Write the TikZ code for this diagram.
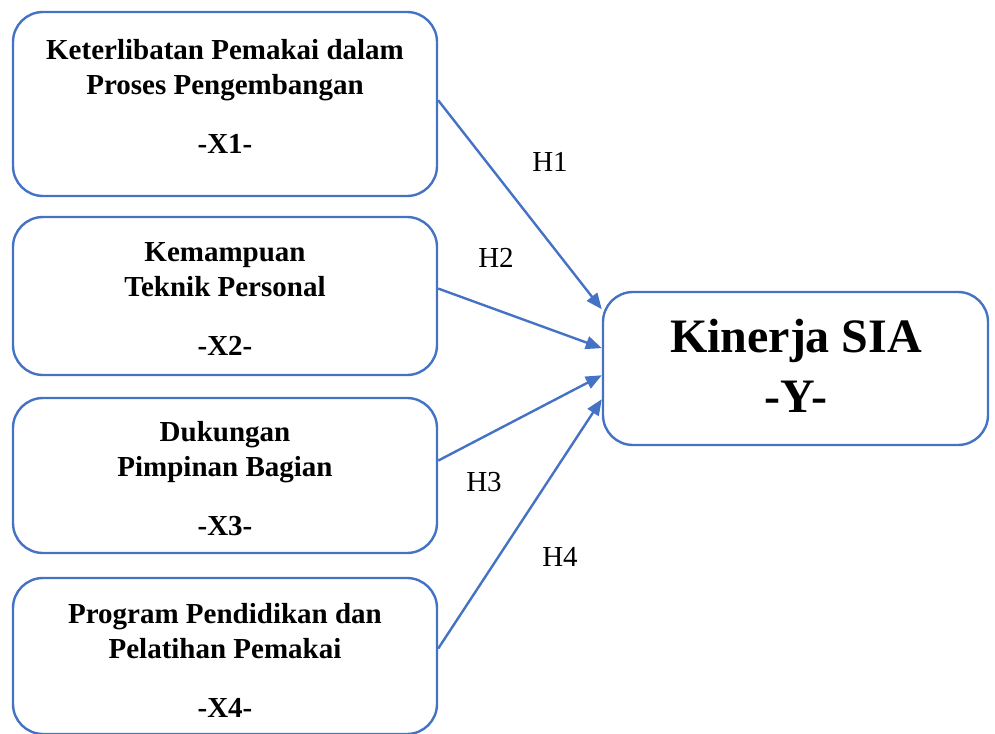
\documentclass[tikz,border=0pt]{standalone}
\usepackage{fontspec}
\setmainfont{Liberation Serif}
\usepackage{tikz}
\usetikzlibrary{arrows.meta}
\definecolor{boxblue}{HTML}{4472C4}

\begin{document}
\begin{tikzpicture}[x=1pt,y=-1pt,
  varbox/.style={draw=boxblue,line width=2.4pt,rounded corners=30pt,minimum width=424pt,inner sep=0pt},
  vartext/.style={align=center,inner sep=0pt,font=\fontsize{29}{35}\selectfont\bfseries},
  hyp/.style={inner sep=0pt,font=\fontsize{29}{35}\selectfont},
  link/.style={draw=boxblue,line width=2.4pt,-{Triangle[length=16pt,width=13pt]}}]
\useasboundingbox (0,0) rectangle (995,733);

% variabel bebas
\node[varbox,minimum height=184pt] (x1) at (225,104) {};
\node[vartext] (x1t) at (225,96) {Keterlibatan Pemakai dalam\\Proses Pengembangan\\[24pt]-X1-};
\node[varbox,minimum height=158pt] (x2) at (225,296) {};
\node[vartext] (x2t) at (225,299.5) {Kemampuan\\Teknik Personal\\[24pt]-X2-};
\node[varbox,minimum height=155pt] (x3) at (225,475.5) {};
\node[vartext] (x3t) at (225,479) {Dukungan\\Pimpinan Bagian\\[24pt]-X3-};
\node[varbox,minimum height=156pt] (x4) at (225,656) {};
\node[vartext] (x4t) at (225,660) {Program Pendidikan dan\\Pelatihan Pemakai\\[24pt]-X4-};

% variabel terikat
\node[varbox,minimum width=385pt,minimum height=153pt] (y) at (795.5,368.5) {};
\node[align=center,inner sep=0pt,font=\fontsize{48}{60}\selectfont\bfseries] (yt) at (796,366) {Kinerja SIA\\-Y-};

\draw[link] (x1.1) -- (y.163);
\draw[link] (x2.2) -- (y.174);
\draw[link] (x3.4) -- (y.182);
\draw[link] (x4.2) -- (y.189);

\node[hyp] (h1) at (550,162) {H1};
\node[hyp] (h2) at (496,258) {H2};
\node[hyp] (h3) at (484,482) {H3};
\node[hyp] (h4) at (560,557) {H4};
\end{tikzpicture}
\end{document}
